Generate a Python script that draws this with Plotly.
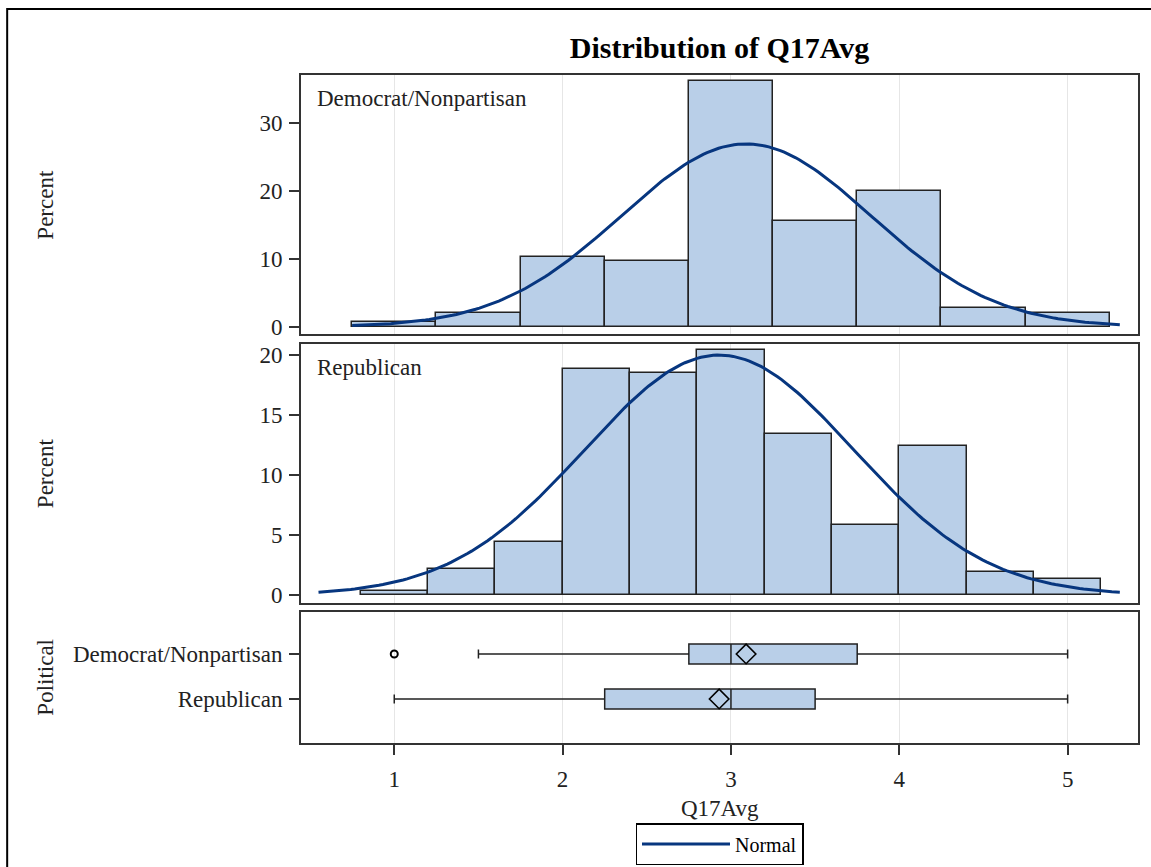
import numpy as np
import plotly.graph_objects as go

# ---- data -------------------------------------------------------------
# Democrat/Nonpartisan histogram (bin width 0.5), percent of respondents
dem_centers = [1.0, 1.5, 2.0, 2.5, 3.0, 3.5, 4.0, 4.5, 5.0]
dem_percent = [0.7, 2.1, 10.2, 9.6, 36.1, 15.5, 19.9, 2.8, 2.0]
dem_binwidth = 0.5

# Republican histogram (bin width 0.4), percent of respondents
rep_centers = [1.0, 1.4, 1.8, 2.2, 2.6, 3.0, 3.4, 3.8, 4.2, 4.6, 5.0]
rep_percent = [0.3, 2.2, 4.4, 18.8, 18.5, 20.4, 13.4, 5.8, 12.4, 1.9, 1.3]
rep_binwidth = 0.4

# fitted normal parameters and the span over which each curve is drawn
dem_mu, dem_sigma, dem_span = 3.09, 0.742, (0.75, 5.31)
rep_mu, rep_sigma, rep_span = 2.93, 0.798, (0.55, 5.31)

# box plot summary statistics
groups = ["Democrat/Nonpartisan", "Republican"]
box_q1 = [2.75, 2.25]
box_median = [3.0, 3.0]
box_q3 = [3.75, 3.5]
box_low = [1.5, 1.0]
box_high = [5.0, 5.0]
box_mean = [3.09, 2.93]
outlier_group = ["Democrat/Nonpartisan"]
outlier_value = [1.0]

x_ticks = [1, 2, 3, 4, 5]

# ---- styling ------------------------------------------------------------
FONT = "Liberation Serif, Times New Roman, serif"
FILL = "#B9CFE8"
EDGE = "#222222"
CURVE = "#07367F"
FRAME = "#333333"
GRID = "#E6E6E6"


def normal_curve(mu, sigma, binw, span, n=200):
    xs = np.linspace(span[0], span[1], n)
    ys = 100.0 * binw * np.exp(-0.5 * ((xs - mu) / sigma) ** 2) / (sigma * np.sqrt(2 * np.pi))
    return xs, ys


fig = go.Figure()

# top panel: Democrat/Nonpartisan
fig.add_trace(go.Bar(x=dem_centers, y=dem_percent, width=dem_binwidth,
                     marker=dict(color=FILL, line=dict(color=EDGE, width=1.5)),
                     showlegend=False, xaxis="x", yaxis="y"))
xs, ys = normal_curve(dem_mu, dem_sigma, dem_binwidth, dem_span)
fig.add_trace(go.Scatter(x=xs, y=ys, mode="lines", name="Normal",
                         line=dict(color=CURVE, width=3), showlegend=True,
                         xaxis="x", yaxis="y"))

# middle panel: Republican
fig.add_trace(go.Bar(x=rep_centers, y=rep_percent, width=rep_binwidth,
                     marker=dict(color=FILL, line=dict(color=EDGE, width=1.5)),
                     showlegend=False, xaxis="x2", yaxis="y2"))
xs, ys = normal_curve(rep_mu, rep_sigma, rep_binwidth, rep_span)
fig.add_trace(go.Scatter(x=xs, y=ys, mode="lines", name="Normal",
                         line=dict(color=CURVE, width=3), showlegend=False,
                         xaxis="x2", yaxis="y2"))

# bottom panel: horizontal box plots by group
for i, g in enumerate(groups):
    fig.add_trace(go.Box(y=[i], q1=[box_q1[i]], median=[box_median[i]], q3=[box_q3[i]],
                         lowerfence=[box_low[i]], upperfence=[box_high[i]],
                         orientation="h", width=0.44, whiskerwidth=0.45,
                         fillcolor=FILL, line=dict(color=EDGE, width=1.5),
                         boxpoints=False, showlegend=False, hoverinfo="skip",
                         xaxis="x3", yaxis="y3"))
fig.add_trace(go.Scatter(x=box_mean, y=[0, 1], mode="markers",
                         marker=dict(symbol="diamond-open", size=15, color="black",
                                     line=dict(color="black", width=1.6)),
                         showlegend=False, xaxis="x3", yaxis="y3"))
fig.add_trace(go.Scatter(x=outlier_value, y=[groups.index(g) for g in outlier_group],
                         mode="markers",
                         marker=dict(symbol="circle-open", size=7, color="black",
                                     line=dict(color="black", width=2)),
                         showlegend=False, xaxis="x3", yaxis="y3"))

x_range = [0.446, 5.418]
common_x = dict(range=x_range, tickvals=x_ticks, showgrid=True, gridcolor=GRID,
                gridwidth=1, zeroline=False, showline=True, mirror=True,
                linecolor=FRAME, linewidth=2)
tickfont = dict(family=FONT, size=23, color="#222222")
common_y = dict(showgrid=False, zeroline=False, showline=True, mirror=True,
                linecolor=FRAME, linewidth=2, ticks="outside", ticklen=10,
                tickcolor=FRAME, tickwidth=2, tickfont=tickfont,
                ticklabelstandoff=2)

fig.update_layout(
    width=1151, height=867,
    margin=dict(l=301, r=12.5, t=75, b=124, autoexpand=False),
    paper_bgcolor="white", plot_bgcolor="white",
    font=dict(family=FONT, size=23, color="#222222"),
    bargap=0,
    title=dict(text="<b>Distribution of Q17Avg</b>", x=0.5, xref="paper",
               xanchor="center", y=1 - 47 / 867, yanchor="middle",
               font=dict(family=FONT, size=30, color="black")),
    xaxis=dict(**common_x, domain=[0, 1], anchor="y", showticklabels=False, ticks=""),
    yaxis=dict(**common_y, domain=[0.6118, 1], range=[-1.1, 37.0],
               tickvals=[0, 10, 20, 30]),
    xaxis2=dict(**common_x, domain=[0, 1], anchor="y2", showticklabels=False, ticks=""),
    yaxis2=dict(**common_y, domain=[0.21, 0.5973], range=[-0.64, 20.92],
                tickvals=[0, 5, 10, 15, 20]),
    xaxis3=dict(**common_x, domain=[0, 1], anchor="y3", ticks="outside", ticklen=10,
                tickcolor=FRAME, tickwidth=2, tickfont=tickfont, ticklabelstandoff=4),
    yaxis3=dict(**common_y, domain=[0, 0.1961], range=[1.978, -0.933],
                tickvals=[0, 1], ticktext=groups),
    legend=dict(orientation="h", x=0.5, xanchor="center", y=-(823 - 743) / 668,
                yanchor="top", bordercolor="black", borderwidth=1.5,
                font=dict(family=FONT, size=20, color="black"), itemwidth=88),
)

# panel labels
fig.add_annotation(text="Democrat/Nonpartisan", xref="x domain", yref="y domain",
                   x=0.0167, y=0.911, xanchor="left", yanchor="middle",
                   showarrow=False, font=dict(family=FONT, size=23, color="#222222"))
fig.add_annotation(text="Republican", xref="x2 domain", yref="y2 domain",
                   x=0.0167, y=0.911, xanchor="left", yanchor="middle",
                   showarrow=False, font=dict(family=FONT, size=23, color="#222222"))

# axis titles
ytitle_x = (45 - 301) / 837.5
for txt, yc in [("Percent", 204.5), ("Percent", 473.0), ("Political", 677.5)]:
    fig.add_annotation(text=txt, xref="paper", yref="paper", x=ytitle_x,
                       y=(743 - yc) / 668, xanchor="center", yanchor="middle",
                       textangle=-90, showarrow=False,
                       font=dict(family=FONT, size=23, color="#222222"))
fig.add_annotation(text="Q17Avg", xref="paper", yref="paper", x=0.5,
                   y=-(808 - 743) / 668, xanchor="center", yanchor="middle",
                   showarrow=False, font=dict(family=FONT, size=23, color="#222222"))

# outer graph border
fig.add_shape(type="rect", xref="paper", yref="paper",
              x0=(7 - 301) / 837.5, x1=1.2, y0=-0.4, y1=1 + (75 - 9) / 668,
              line=dict(color="black", width=2), fillcolor="rgba(0,0,0,0)", layer="below")

fig.write_html("out.html")
